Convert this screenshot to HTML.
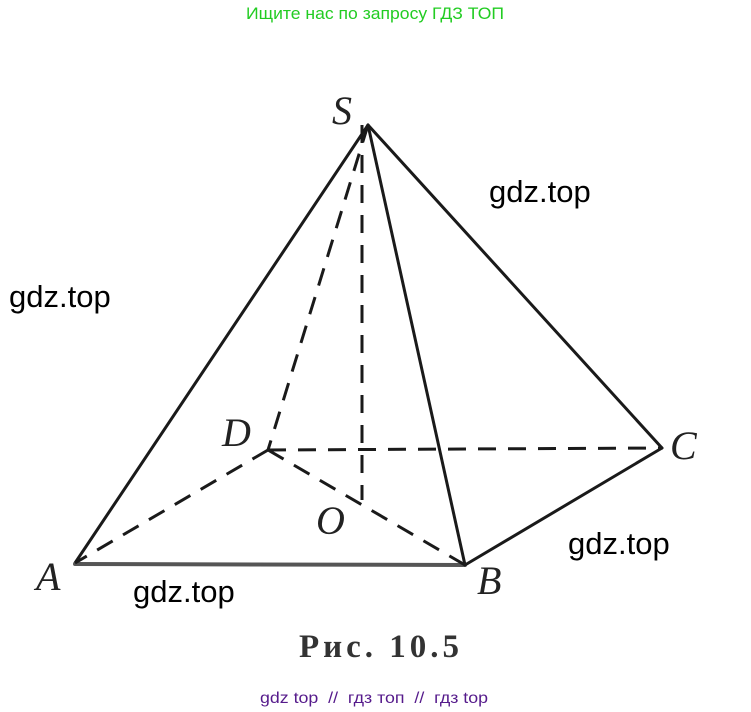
<!DOCTYPE html>
<html><head><meta charset="utf-8"><style>
body{margin:0;width:751px;height:712px;background:#fff;overflow:hidden}
svg{position:absolute;left:0;top:0}
</style></head><body>
<svg width="751" height="712" xmlns="http://www.w3.org/2000/svg">
<text x="375" y="19" text-anchor="middle" font-family="Liberation Sans, sans-serif" font-size="17" fill="#22cc22" textLength="258" lengthAdjust="spacingAndGlyphs">Ищите нас по запросу ГДЗ ТОП</text>
<g stroke="#1a1a1a" stroke-width="3" fill="none" stroke-linecap="round">
<line x1="368" y1="125" x2="75" y2="563"/>
<line x1="368" y1="125" x2="465" y2="565"/>
<line x1="368" y1="125" x2="662" y2="448"/>
<line x1="75" y1="564" x2="465" y2="565" stroke="#555" stroke-width="4"/>
<line x1="465" y1="565" x2="662" y2="448"/>
</g>
<g stroke="#1a1a1a" stroke-width="3" fill="none" stroke-dasharray="18,12">
<line x1="268" y1="450" x2="662" y2="448"/>
<line x1="268" y1="450" x2="75" y2="563"/>
<line x1="268" y1="450" x2="465" y2="565"/>
<line x1="368" y1="125" x2="268" y2="450"/>
<line x1="362" y1="125" x2="362" y2="500"/>
</g>
<g font-family="Liberation Serif, serif" font-style="italic" font-size="40" fill="#222">
<text x="332" y="124">S</text>
<text x="36" y="590">A</text>
<text x="477" y="594">B</text>
<text x="670" y="459">C</text>
<text x="222" y="446">D</text>
<text x="316" y="534">O</text>
</g>
<text x="381" y="657" text-anchor="middle" font-family="Liberation Serif, serif" font-weight="bold" font-size="33" fill="#333" letter-spacing="4">Рис. 10.5</text>
<g font-family="Liberation Sans, sans-serif" font-size="31" fill="#000">
<text x="489" y="202">gdz.top</text>
<text x="9" y="307">gdz.top</text>
<text x="568" y="554">gdz.top</text>
<text x="133" y="602">gdz.top</text>
</g>
<text x="374" y="703" text-anchor="middle" font-family="Liberation Sans, sans-serif" font-size="16" fill="#551a8b" xml:space="preserve" textLength="228" lengthAdjust="spacingAndGlyphs">gdz top  //  гдз топ  //  гдз top</text>
</svg>
</body></html>
